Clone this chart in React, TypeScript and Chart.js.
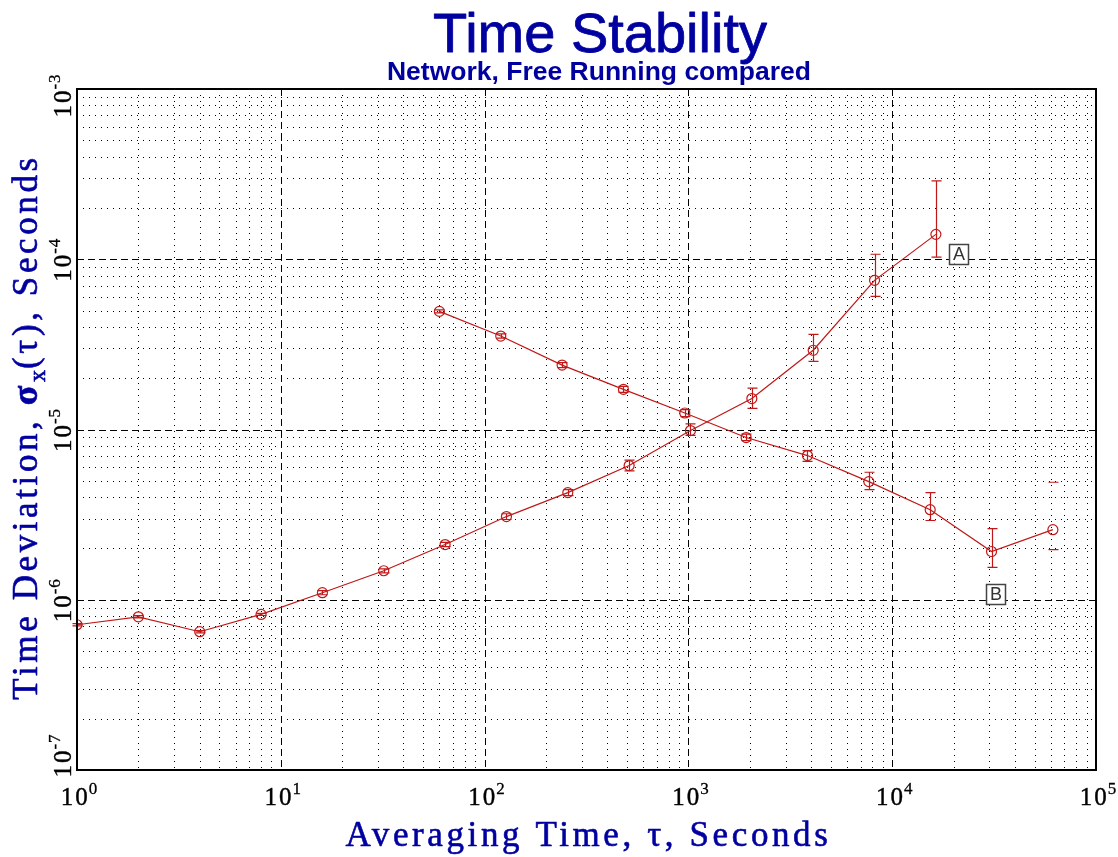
import React, { useEffect, useRef } from 'react';
import { Chart, registerables } from 'chart.js';

Chart.register(...registerables);

// ---------- data ----------
const tauA = [1, 2, 4, 8, 16, 32, 64, 128, 256, 512, 1024, 2048, 4096, 8192, 16384];
const sigmaA = [7.13e-7, 7.94e-7, 6.49e-7, 8.2e-7, 1.1e-6, 1.48e-6, 2.11e-6, 3.08e-6, 4.26e-6, 6.14e-6, 9.86e-6, 1.52e-5, 2.92e-5, 7.52e-5, 1.4e-4];
const sigmaAHigh = [7.24e-7, 8.06e-7, 6.59e-7, 8.32e-7, 1.13e-6, 1.52e-6, 2.17e-6, 3.2e-6, 4.43e-6, 6.6e-6, 1.08e-5, 1.75e-5, 3.62e-5, 1.07e-4, 2.89e-4];
const sigmaALow = [7.02e-7, 7.82e-7, 6.39e-7, 8.08e-7, 1.07e-6, 1.44e-6, 2.05e-6, 2.96e-6, 4.09e-6, 5.72e-6, 9.23e-6, 1.33e-5, 2.51e-5, 6.06e-5, 1.03e-4];
const capsOnlyA = tauA.map(() => false);

const tauB = [60, 120, 240, 480, 960, 1920, 3840, 7680, 15360, 30720, 61440];
const sigmaB = [4.94e-5, 3.54e-5, 2.39e-5, 1.72e-5, 1.25e-5, 8.97e-6, 7.03e-6, 4.94e-6, 3.38e-6, 1.92e-6, 2.58e-6];
const sigmaBHigh = [5.04e-5, 3.64e-5, 2.47e-5, 1.79e-5, 1.31e-5, 9.4e-6, 7.52e-6, 5.61e-6, 4.26e-6, 2.62e-6, 4.9e-6];
const sigmaBLow = [4.84e-5, 3.44e-5, 2.31e-5, 1.65e-5, 1.19e-5, 8.6e-6, 6.49e-6, 4.44e-6, 2.92e-6, 1.55e-6, 1.97e-6];
const capsOnlyB = [false, false, false, false, false, false, false, false, false, false, true];

const xDecades = [0, 1, 2, 3, 4, 5];
const yDecades = [-7, -6, -5, -4, -3];

const seriesTags = [
  { text: 'A', tau: 21150, sigma: 1.08e-4 },
  { text: 'B', tau: 32100, sigma: 1.08e-6 },
];

const TITLE = 'Time Stability';
const SUBTITLE = 'Network, Free Running compared';
const X_TITLE = 'Averaging Time, τ, Seconds';
const Y_TITLE_RUNS = [
  { text: 'Time Deviation, ', sub: false, bold: false },
  { text: 'σ', sub: false, bold: true },
  { text: 'x', sub: true, bold: false },
  { text: '(τ), Seconds', sub: false, bold: false },
];

const RED = '#c01818';
const BLUE = '#0000a0';
const SERIF = '"Liberation Serif", "Times New Roman", serif';
const SANS = '"Liberation Sans", Arial, sans-serif';

function setLS(ctx: any, v: string) {
  if ('letterSpacing' in ctx) ctx.letterSpacing = v;
}

function fillBold(ctx: CanvasRenderingContext2D, text: string, x: number, y: number, sw: number) {
  ctx.fillText(text, x, y);
  if (sw > 0) {
    ctx.lineWidth = sw;
    ctx.lineJoin = 'round';
    ctx.strokeStyle = ctx.fillStyle as string;
    ctx.strokeText(text, x, y);
  }
}

function drawPow(ctx: CanvasRenderingContext2D, exp: string) {
  // draws "10^exp" centered on x=0, baseline y=0
  ctx.font = `25px ${SERIF}`;
  setLS(ctx, '2px');
  const w1 = ctx.measureText('10').width;
  ctx.font = `17px ${SERIF}`;
  setLS(ctx, '1px');
  const w2 = ctx.measureText(exp).width;
  const start = -(w1 + w2) / 2;
  ctx.textAlign = 'left';
  ctx.textBaseline = 'alphabetic';
  ctx.font = `25px ${SERIF}`;
  setLS(ctx, '2px');
  fillBold(ctx, '10', start, 0, 0.4);
  ctx.font = `17px ${SERIF}`;
  setLS(ctx, '1px');
  fillBold(ctx, exp, start + w1 - 1, -11, 0.3);
}

function drawErrors(chart: any, taus: number[], hi: number[], lo: number[], capsOnly: boolean[]) {
  const ctx = chart.ctx as CanvasRenderingContext2D;
  const xs = chart.scales.x;
  const ys = chart.scales.y;
  ctx.save();
  ctx.strokeStyle = RED;
  ctx.lineWidth = 1.2;
  ctx.setLineDash([]);
  for (let i = 0; i < taus.length; i++) {
    const px = Math.round(xs.getPixelForValue(taus[i])) + 0.5;
    const ph = ys.getPixelForValue(hi[i]);
    const pl = ys.getPixelForValue(lo[i]);
    ctx.beginPath();
    if (!capsOnly[i]) {
      ctx.moveTo(px, ph);
      ctx.lineTo(px, pl);
    }
    ctx.moveTo(px - 5, ph);
    ctx.lineTo(px + 5, ph);
    ctx.moveTo(px - 5, pl);
    ctx.lineTo(px + 5, pl);
    ctx.stroke();
  }
  ctx.restore();
}

const decorPlugin = {
  id: 'decor',
  beforeDraw(chart: any) {
    const ctx = chart.ctx as CanvasRenderingContext2D;
    ctx.save();
    ctx.fillStyle = '#ffffff';
    ctx.fillRect(0, 0, chart.width, chart.height);
    ctx.restore();
  },
  beforeDatasetsDraw(chart: any) {
    const ctx = chart.ctx as CanvasRenderingContext2D;
    const { left, right, top, bottom } = chart.chartArea;
    const xs = chart.scales.x;
    const ys = chart.scales.y;
    ctx.save();
    ctx.strokeStyle = '#000';
    ctx.lineWidth = 1;
    // minor dotted
    ctx.setLineDash([1, 5]);
    ctx.beginPath();
    for (const d of xDecades.slice(0, -1)) {
      for (let m = 2; m <= 9; m++) {
        const px = Math.round(xs.getPixelForValue(m * Math.pow(10, d))) + 0.5;
        ctx.moveTo(px, top);
        ctx.lineTo(px, bottom);
      }
    }
    for (const d of yDecades.slice(0, -1)) {
      for (let m = 2; m <= 9; m++) {
        const py = Math.round(ys.getPixelForValue(m * Math.pow(10, d))) + 0.5;
        ctx.moveTo(left, py);
        ctx.lineTo(right, py);
      }
    }
    ctx.stroke();
    // major dashed
    ctx.setLineDash([7, 4]);
    ctx.beginPath();
    for (const d of xDecades.slice(1, -1)) {
      const px = Math.round(xs.getPixelForValue(Math.pow(10, d))) + 0.5;
      ctx.moveTo(px, top);
      ctx.lineTo(px, bottom);
    }
    for (const d of yDecades.slice(1, -1)) {
      const py = Math.round(ys.getPixelForValue(Math.pow(10, d))) + 0.5;
      ctx.moveTo(left, py);
      ctx.lineTo(right, py);
    }
    ctx.stroke();
    ctx.restore();
  },
  afterDatasetsDraw(chart: any) {
    const ctx = chart.ctx as CanvasRenderingContext2D;
    const { left, right, top, bottom } = chart.chartArea;
    const xs = chart.scales.x;
    const ys = chart.scales.y;

    drawErrors(chart, tauA, sigmaAHigh, sigmaALow, capsOnlyA);
    drawErrors(chart, tauB, sigmaBHigh, sigmaBLow, capsOnlyB);

    ctx.save();
    // frame
    ctx.setLineDash([]);
    ctx.strokeStyle = '#000';
    ctx.lineWidth = 2;
    ctx.strokeRect(left, top, right - left, bottom - top);

    // series tags
    for (const t of seriesTags) {
      const cx = xs.getPixelForValue(t.tau);
      const cy = ys.getPixelForValue(t.sigma);
      ctx.fillStyle = '#ffffff';
      ctx.fillRect(cx - 9.5, cy - 10, 19, 20);
      ctx.strokeStyle = '#444';
      ctx.lineWidth = 1.5;
      ctx.strokeRect(Math.round(cx - 9.5) + 0.5, Math.round(cy - 10) + 0.5, 19, 20);
      ctx.fillStyle = '#333';
      ctx.font = `18px ${SANS}`;
      ctx.textAlign = 'center';
      ctx.textBaseline = 'middle';
      ctx.fillText(t.text, cx + 0.5, cy + 1);
    }

    // x tick labels
    ctx.fillStyle = '#000';
    for (const d of xDecades) {
      const px = xs.getPixelForValue(Math.pow(10, d));
      ctx.save();
      ctx.translate(px + 3, 805);
      drawPow(ctx, String(d));
      ctx.restore();
    }
    // y tick labels (rotated)
    for (const d of yDecades) {
      let py = ys.getPixelForValue(Math.pow(10, d));
      py = Math.min(Math.max(py, top + 6), bottom - 15);
      ctx.save();
      ctx.translate(71, py);
      ctx.rotate(-Math.PI / 2);
      drawPow(ctx, '-' + String(-d));
      ctx.restore();
    }

    // titles
    ctx.fillStyle = BLUE;
    ctx.textBaseline = 'alphabetic';
    ctx.textAlign = 'center';
    setLS(ctx, '0px');
    ctx.font = `56px ${SANS}`;
    fillBold(ctx, TITLE, 600, 52, 0.8);
    ctx.font = `bold 26.5px ${SANS}`;
    fillBold(ctx, SUBTITLE, 599, 80, 0);

    // x title
    ctx.font = `35px ${SERIF}`;
    setLS(ctx, '3.6px');
    ctx.textAlign = 'left';
    const xw = ctx.measureText(X_TITLE).width;
    fillBold(ctx, X_TITLE, (left + right) / 2 - xw / 2 + 2, 846, 0.6);

    // y title with subscript
    const fontFor = (r: any) => r.sub ? `24px ${SERIF}` : (r.bold ? `bold 36px ${SERIF}` : `35px ${SERIF}`);
    let total = 0;
    const widths: number[] = [];
    for (const r of Y_TITLE_RUNS) {
      ctx.font = fontFor(r);
      setLS(ctx, r.sub ? '1px' : '3.6px');
      const w = ctx.measureText(r.text).width;
      widths.push(w);
      total += w;
    }
    ctx.save();
    ctx.translate(37, 427);
    ctx.rotate(-Math.PI / 2);
    let x0 = -total / 2;
    Y_TITLE_RUNS.forEach((r, i) => {
      ctx.font = fontFor(r);
      setLS(ctx, r.sub ? '1px' : '3.6px');
      fillBold(ctx, r.text, x0, r.sub ? 8 : 0, 0.6);
      x0 += widths[i];
    });
    ctx.restore();
    setLS(ctx, '0px');
    ctx.restore();
  },
};

function makeDataset(taus: number[], sig: number[]) {
  return {
    data: taus.map((t, i) => ({ x: t, y: sig[i] })),
    borderColor: RED,
    borderWidth: 1.2,
    pointRadius: 5,
    pointHoverRadius: 5,
    pointStyle: 'circle' as const,
    pointBorderColor: RED,
    pointBackgroundColor: 'rgba(0,0,0,0)',
    pointBorderWidth: 1.2,
    fill: false,
    tension: 0,
  };
}

export default function App() {
  const ref = useRef<HTMLCanvasElement>(null);
  useEffect(() => {
    if (!ref.current) return;
    const chart = new Chart(ref.current, {
      type: 'line',
      data: {
        datasets: [makeDataset(tauA, sigmaA), makeDataset(tauB, sigmaB)],
      },
      options: {
        responsive: false,
        animation: false,
        devicePixelRatio: 1,
        layout: { padding: { left: 77, top: 89, right: 22, bottom: 87 } },
        scales: {
          x: { type: 'logarithmic', min: 1, max: 1e5, display: false },
          y: { type: 'logarithmic', min: 1e-7, max: 1e-3, display: false },
        },
        plugins: {
          legend: { display: false },
          title: { display: false },
          tooltip: { enabled: false },
        },
        events: [],
      },
      plugins: [decorPlugin],
    } as any);
    return () => chart.destroy();
  }, []);
  return (
    <div style={{ position: 'absolute', left: 0, top: 0, width: 1118, height: 857, background: '#fff' }}>
      <canvas ref={ref} width={1118} height={857} style={{ display: 'block', width: 1118, height: 857 }} />
    </div>
  );
}
